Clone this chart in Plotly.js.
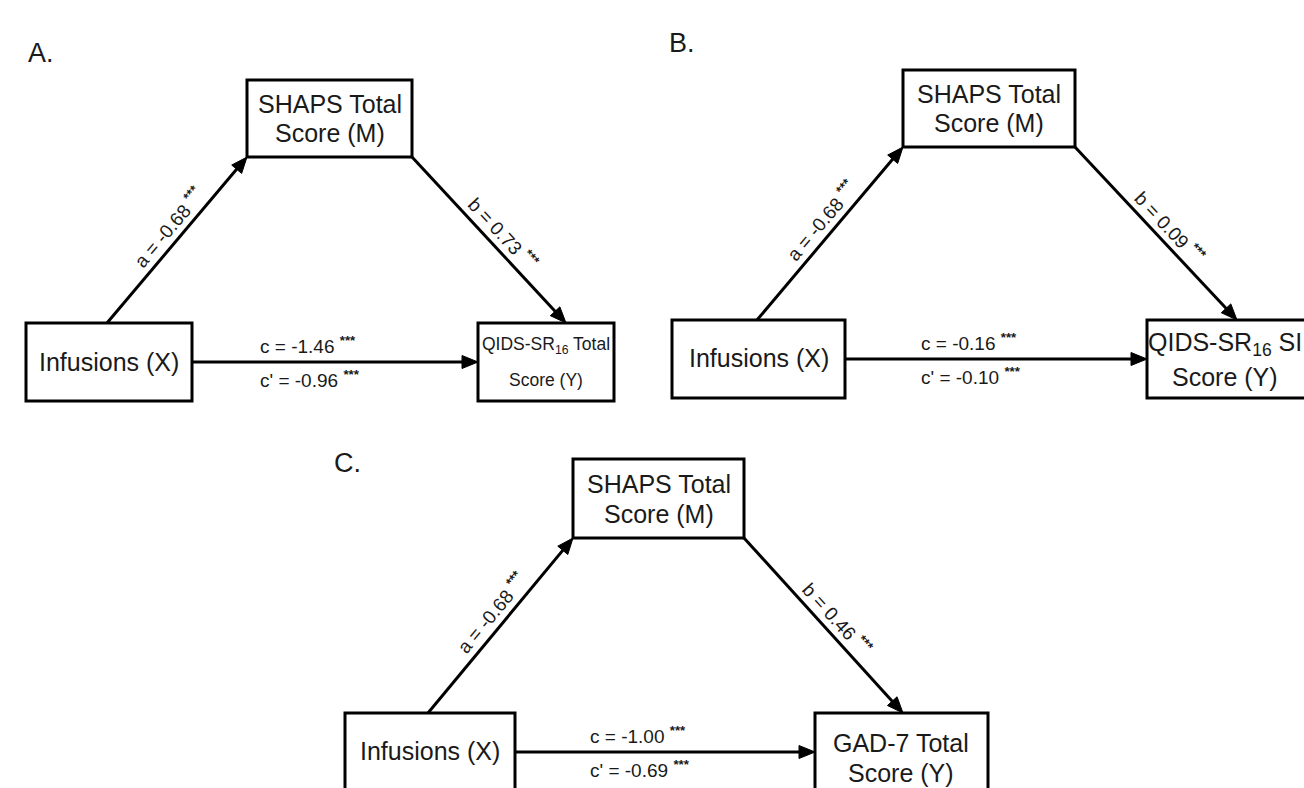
<!DOCTYPE html>
<html>
<head>
<meta charset="utf-8">
<script src="https://cdn.plot.ly/plotly-3.0.1.min.js"></script>
<style>html,body{margin:0;padding:0;background:#fff;}#chart{width:1304px;height:788px;}</style>
</head>
<body>
<div id="chart"></div>
<script>
// ---- Data ----
const panelLabels = ['A.', 'B.', 'C.'];
const predictorLabels = [['Infusions (X)'], ['Infusions (X)'], ['Infusions (X)']];
const mediatorLabels = [['SHAPS Total', 'Score (M)'], ['SHAPS Total', 'Score (M)'], ['SHAPS Total', 'Score (M)']];
const outcomeLabels = [['QIDS-SR<sub>16</sub> Total', 'Score (Y)'], ['QIDS-SR<sub>16</sub> SI', 'Score (Y)'], ['GAD-7 Total', 'Score (Y)']];
const aPath = [-0.68, -0.68, -0.68];
const bPath = [0.73, 0.09, 0.46];
const cTotal = [-1.46, -0.16, -1.00];
const cDirect = [-0.96, -0.10, -0.69];
const aSig = ['***', '***', '***'];
const bSig = ['***', '***', '***'];
const cSig = ['***', '***', '***'];
const cDirectSig = ['***', '***', '***'];

// ---- Layout geometry (pixel positions of the diagram pieces) ----
const geom = [
  { label: [26, 53], X: [26, 192, 323, 401], M: [247, 412, 80, 157], Y: [478, 614, 323, 401],
    aFrom: [107, 323], aTo: [247, 157], bFrom: [412, 157], bTo: [566, 323], cY: 362,
    xCy: 362, mRows: [104, 133], yCx: 546, yRows: [345, 380], yFont: 17.5 },
  { label: [667, 43], X: [672, 845, 320, 398], M: [903, 1075, 70, 147], Y: [1147, 1312, 320, 398],
    aFrom: [757, 320], aTo: [903, 147], bFrom: [1075, 147], bTo: [1237, 320], cY: 359,
    xCy: 358, mRows: [94, 123], yCx: 1225, yRows: [344, 377], yFont: 25 },
  { label: [332, 463], X: [345, 515, 713, 810], M: [573, 744, 459, 538], Y: [815, 988, 713, 810],
    aFrom: [428, 713], aTo: [573, 538], bFrom: [744, 538], bTo: [903, 713], cY: 752,
    xCy: 751, mRows: [484, 514], yCx: 901, yRows: [743, 773], yFont: 25 }
];

const FONT = 'Liberation Sans, Arial, Helvetica, sans-serif';
const TXT = '#1a1a1a';
const LW = 3;
const shapes = [];
const annotations = [];

function fmt(v) { return (v < 0 ? '-' : '') + Math.abs(v).toFixed(2); }
function stars(s) { return ' <sup><b>' + s + '</b></sup>'; }

function box(r) {
  shapes.push({ type: 'rect', xref: 'x', yref: 'y', x0: r[0], x1: r[1], y0: r[2], y1: r[3],
    line: { color: '#000', width: LW }, fillcolor: 'rgba(0,0,0,0)' });
}
function text(t, x, y, size, opts) {
  annotations.push(Object.assign({ xref: 'x', yref: 'y', x: x, y: y, text: t, showarrow: false,
    xanchor: 'center', yanchor: 'middle', font: { family: FONT, size: size, color: TXT } }, opts || {}));
}
function arrow(from, to) {
  const dx = to[0] - from[0], dy = to[1] - from[1];
  const len = Math.hypot(dx, dy);
  const ux = dx / len, uy = dy / len;
  const px = -uy, py = ux;
  const L = 16, W = 6.5;
  const bx = to[0] - ux * L, by = to[1] - uy * L;
  shapes.push({ type: 'line', xref: 'x', yref: 'y', x0: from[0], y0: from[1],
    x1: to[0] - ux * (L * 0.6), y1: to[1] - uy * (L * 0.6), line: { color: '#000', width: LW } });
  shapes.push({ type: 'path', xref: 'x', yref: 'y',
    path: 'M' + to[0] + ',' + to[1] + ' L' + (bx + px * W) + ',' + (by + py * W) +
          ' L' + (bx - px * W) + ',' + (by - py * W) + ' Z',
    fillcolor: '#000', line: { color: '#000', width: 1 } });
}
function pathLabel(t, from, to, off) {
  const dx = to[0] - from[0], dy = to[1] - from[1];
  const len = Math.hypot(dx, dy);
  const ux = dx / len, uy = dy / len;
  let px = uy, py = -ux;
  if (py > 0) { px = -px; py = -py; }
  const mx = from[0] + dx * 0.52 + px * off;
  const my = from[1] + dy * 0.52 + py * off;
  const ang = Math.atan2(dy, dx) * 180 / Math.PI;
  text(t, mx, my, 19, { textangle: ang });
}

for (let i = 0; i < 3; i++) {
  const g = geom[i];
  text(panelLabels[i], g.label[0], g.label[1], 27, { xanchor: 'left' });
  box(g.X); box(g.M); box(g.Y);
  text(predictorLabels[i][0], (g.X[0] + g.X[1]) / 2, g.xCy, 25);
  mediatorLabels[i].forEach((s, k) => text(s, (g.M[0] + g.M[1]) / 2, g.mRows[k], 25));
  outcomeLabels[i].forEach((s, k) => text(s, g.yCx, g.yRows[k], g.yFont));
  arrow(g.aFrom, g.aTo);
  arrow(g.bFrom, g.bTo);
  arrow([g.X[1], g.cY], [g.Y[0], g.cY]);
  pathLabel('a = ' + fmt(aPath[i]) + stars(aSig[i]), g.aFrom, g.aTo, 15);
  pathLabel('b = ' + fmt(bPath[i]) + stars(bSig[i]), g.bFrom, g.bTo, 15);
  const cx = (g.X[1] + g.Y[0]) / 2 - 27;
  text('c = ' + fmt(cTotal[i]) + stars(cSig[i]), cx, g.cY - 17, 19);
  text("c' = " + fmt(cDirect[i]) + stars(cDirectSig[i]), cx + 2, g.cY + 17, 19);
}

const layout = {
  width: 1304, height: 788,
  margin: { l: 0, r: 0, t: 0, b: 0, pad: 0 },
  paper_bgcolor: '#fff', plot_bgcolor: '#fff',
  showlegend: false,
  xaxis: { range: [0, 1304], visible: false, fixedrange: true },
  yaxis: { range: [788, 0], visible: false, fixedrange: true },
  shapes: shapes,
  annotations: annotations
};

Plotly.newPlot('chart', [], layout, { displayModeBar: false, staticPlot: true });
</script>
</body>
</html>
